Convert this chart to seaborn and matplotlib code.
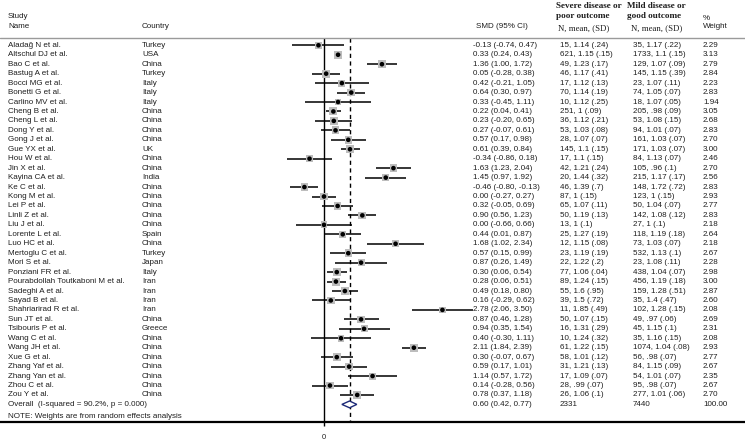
import numpy as np
import pandas as pd
import matplotlib
matplotlib.use("Agg")
import matplotlib.pyplot as plt
import matplotlib.transforms as mtransforms
import seaborn as sns

# ---- data ----
studies = ["Aladağ N et al.", "Altschul DJ et al.", "Bao C et al.", "Bastug A et al.",
           "Bocci MG et al.", "Bonetti G et al.", "Carlino MV et al.", "Cheng B et al.",
           "Cheng L et al.", "Dong Y et al.", "Gong J et al.", "Gue YX et al.",
           "Hou W et al.", "Jin X et al.", "Kayina CA et al.", "Ke C et al.",
           "Kong M et al.", "Lei P et al.", "Linli Z et al.", "Liu J et al.",
           "Lorente L et al.", "Luo HC et al.", "Mertoglu C et al.", "Mori S et al.",
           "Ponziani FR et al.", "Pourabdollah Toutkaboni M et al.", "Sadeghi A et al.",
           "Sayad B et al.", "Shahriarirad R et al.", "Sun JT et al.", "Tsibouris P et al.",
           "Wang C et al.", "Wang JH et al.", "Xue G et al.", "Zhang Yaf et al.",
           "Zhang Yan et al.", "Zhou C et al.", "Zou Y et al."]
countries = ["Turkey", "USA", "China", "Turkey", "Italy", "Italy", "Italy", "China",
             "China", "China", "China", "UK", "China", "China", "India", "China",
             "China", "China", "China", "China", "Spain", "China", "Turkey", "Japan",
             "Italy", "Iran", "Iran", "Iran", "Iran", "China", "Greece", "China",
             "China", "China", "China", "China", "China", "China"]
smd = [-0.13, 0.33, 1.36, 0.05, 0.42, 0.64, 0.33, 0.22, 0.23, 0.27, 0.57, 0.61,
       -0.34, 1.63, 1.45, -0.46, 0.00, 0.32, 0.90, 0.00, 0.44, 1.68, 0.57, 0.87,
       0.30, 0.28, 0.49, 0.16, 2.78, 0.87, 0.94, 0.40, 2.11, 0.30, 0.59, 1.14,
       0.14, 0.78]
ci_low = [-0.74, 0.24, 1.00, -0.28, -0.21, 0.30, -0.45, 0.04, -0.20, -0.07, 0.17, 0.39,
          -0.86, 1.23, 0.97, -0.80, -0.27, -0.05, 0.56, -0.66, 0.01, 1.02, 0.15, 0.26,
          0.06, 0.06, 0.18, -0.29, 2.06, 0.46, 0.35, -0.30, 1.84, -0.07, 0.17, 0.57,
          -0.28, 0.37]
ci_high = [0.47, 0.43, 1.72, 0.38, 1.05, 0.97, 1.11, 0.41, 0.65, 0.61, 0.98, 0.84,
           0.18, 2.04, 1.92, -0.13, 0.27, 0.69, 1.23, 0.66, 0.87, 2.34, 0.99, 1.49,
           0.54, 0.51, 0.80, 0.62, 3.50, 1.28, 1.54, 1.11, 2.39, 0.67, 1.01, 1.72,
           0.56, 1.18]
severe = ["15, 1.14 (.24)", "621, 1.15 (.15)", "49, 1.23 (.17)", "46, 1.17 (.41)",
          "17, 1.12 (.13)", "70, 1.14 (.19)", "10, 1.12 (.25)", "251, 1 (.09)",
          "36, 1.12 (.21)", "53, 1.03 (.08)", "28, 1.07 (.07)", "145, 1.1 (.15)",
          "17, 1.1 (.15)", "42, 1.21 (.24)", "20, 1.44 (.32)", "46, 1.39 (.7)",
          "87, 1 (.15)", "65, 1.07 (.11)", "50, 1.19 (.13)", "13, 1 (.1)",
          "25, 1.27 (.19)", "12, 1.15 (.08)", "23, 1.19 (.19)", "22, 1.22 (.2)",
          "77, 1.06 (.04)", "89, 1.24 (.15)", "55, 1.6 (.95)", "39, 1.5 (.72)",
          "11, 1.85 (.49)", "50, 1.07 (.15)", "16, 1.31 (.29)", "10, 1.24 (.32)",
          "61, 1.22 (.15)", "58, 1.01 (.12)", "31, 1.21 (.13)", "17, 1.09 (.07)",
          "28, .99 (.07)", "26, 1.06 (.1)"]
mild = ["35, 1.17 (.22)", "1733, 1.1 (.15)", "129, 1.07 (.09)", "145, 1.15 (.39)",
        "23, 1.07 (.11)", "74, 1.05 (.07)", "18, 1.07 (.05)", "205, .98 (.09)",
        "53, 1.08 (.15)", "94, 1.01 (.07)", "161, 1.03 (.07)", "171, 1.03 (.07)",
        "84, 1.13 (.07)", "105, .96 (.1)", "215, 1.17 (.17)", "148, 1.72 (.72)",
        "123, 1 (.15)", "50, 1.04 (.07)", "142, 1.08 (.12)", "27, 1 (.1)",
        "118, 1.19 (.18)", "73, 1.03 (.07)", "532, 1.13 (.1)", "23, 1.08 (.11)",
        "438, 1.04 (.07)", "456, 1.19 (.18)", "159, 1.28 (.51)", "35, 1.4 (.47)",
        "102, 1.28 (.15)", "49, .97 (.06)", "45, 1.15 (.1)", "35, 1.16 (.15)",
        "1074, 1.04 (.08)", "56, .98 (.07)", "84, 1.15 (.09)", "54, 1.01 (.07)",
        "95, .98 (.07)", "277, 1.01 (.06)"]
weights = [2.29, 3.13, 2.79, 2.84, 2.23, 2.83, 1.94, 3.05, 2.68, 2.83, 2.70, 3.00,
           2.46, 2.70, 2.56, 2.83, 2.93, 2.77, 2.83, 2.18, 2.64, 2.18, 2.67, 2.28,
           2.98, 3.00, 2.87, 2.60, 2.08, 2.69, 2.31, 2.08, 2.93, 2.77, 2.67, 2.35,
           2.67, 2.70]

overall_label = "Overall  (I-squared = 90.2%, p = 0.000)"
overall_smd, overall_low, overall_high = 0.60, 0.42, 0.77
overall_severe_n, overall_mild_n, overall_weight = "2331", "7440", "100.00"
note = "NOTE: Weights are from random effects analysis"

df = pd.DataFrame({"study": studies, "country": countries, "smd": smd,
                   "lo": ci_low, "hi": ci_high, "severe": severe,
                   "mild": mild, "weight": weights})
df["row"] = np.arange(len(df))
overall_row = len(df)

# ---- figure ----
sns.set_style("white")
plt.rcParams["font.family"] = ["Liberation Sans", "DejaVu Sans"]

W, H = 745, 440
fig = plt.figure(figsize=(W / 100, H / 100), dpi=100)
ax = fig.add_axes([0, 0, 1, 1])

# pixel layout: zero at x=324, 42.6 px per SMD unit; first row at y=45.3, 9.45 px per row
x0, xs = 324, 42.6
y0, ys = 45.3, 9.45
ax.set_xlim(-x0 / xs, (W - x0) / xs)
ax.set_ylim((H - y0) / ys, -y0 / ys)
ax.axis("off")

def prow(py):
    return (py - y0) / ys

top, bottom = prow(38), prow(422)

# reference lines
ax.vlines(0, top, bottom, color="black", lw=1.0)
ax.vlines(overall_smd, top, bottom, color="black", lw=1.0, linestyles=(0, (3, 2.5)))
ax.axhline(top, color="#9a9a9a", lw=1.0)
ax.axhline(bottom, color="black", lw=1.6)
ax.vlines(0, bottom, prow(426), color="black", lw=1.0)
ax.text(0, prow(437), "0", ha="center", va="center", fontsize=5.5, color="#222222")

# CIs, weight boxes, point estimates
ax.hlines(df["row"], df["lo"], df["hi"], color="black", lw=1.1)
sns.scatterplot(data=df, x="smd", y="row", size="weight",
                sizes=(34 * min(weights) / max(weights), 34), marker="s",
                color="#bdbdbd", edgecolor="none", legend=False, ax=ax, zorder=3)
sns.scatterplot(data=df, x="smd", y="row", marker="o", s=11, color="black",
                edgecolor="none", legend=False, ax=ax, zorder=4)

# overall diamond
dh = 0.36
ax.fill([overall_low, overall_smd, overall_high, overall_smd],
        [overall_row, overall_row - dh, overall_row, overall_row + dh],
        facecolor="white", edgecolor="#1d2a78", lw=1.0, zorder=5)

# ---- text columns ----
tr = mtransforms.blended_transform_factory(fig.transFigure, ax.transData)
fs = 5.75
tc = "#1e1e1e"
col_study, col_country, col_smd, col_sev, col_mild, col_w = 8, 142, 473, 560, 633, 703

def put(px, row, s, **kw):
    kw.setdefault("fontsize", fs)
    kw.setdefault("color", tc)
    ax.text(px / W, row, s, transform=tr, ha="left", va="center", **kw)

for _, r in df.iterrows():
    put(col_study, r["row"], r["study"])
    put(col_country, r["row"], r["country"])
    put(col_smd, r["row"], f"{r['smd']:.2f} ({r['lo']:.2f}, {r['hi']:.2f})")
    put(col_sev, r["row"], r["severe"])
    put(col_mild, r["row"], r["mild"])
    put(col_w, r["row"], f"{r['weight']:.2f}")

put(col_study, overall_row, overall_label)
put(col_smd, overall_row, f"{overall_smd:.2f} ({overall_low:.2f}, {overall_high:.2f})")
put(col_sev, overall_row, overall_severe_n)
put(col_mild, overall_row, overall_mild_n)
put(col_w, overall_row, overall_weight)
put(col_study, prow(416.5), note)

# headers
put(col_study, prow(17), "Study")
put(col_study, prow(27), "Name")
put(col_country, prow(27), "Country")
put(476, prow(27), "SMD (95% CI)")
serif = ["Liberation Serif", "DejaVu Serif"]
put(556, prow(6), "Severe disease or", family=serif, fontweight="bold", fontsize=6.6)
put(556, prow(16), "poor outcome", family=serif, fontweight="bold", fontsize=6.6)
put(558, prow(28), "N, mean, (SD)", family=serif, fontsize=6.3)
put(627, prow(6), "Mild disease or", family=serif, fontweight="bold", fontsize=6.6)
put(627, prow(16), "good outcome", family=serif, fontweight="bold", fontsize=6.6)
put(631, prow(28), "N, mean, (SD)", family=serif, fontsize=6.3)
put(col_w, prow(18), "%")
put(col_w, prow(27), "Weight")

fig.savefig("out.png", dpi=100)
